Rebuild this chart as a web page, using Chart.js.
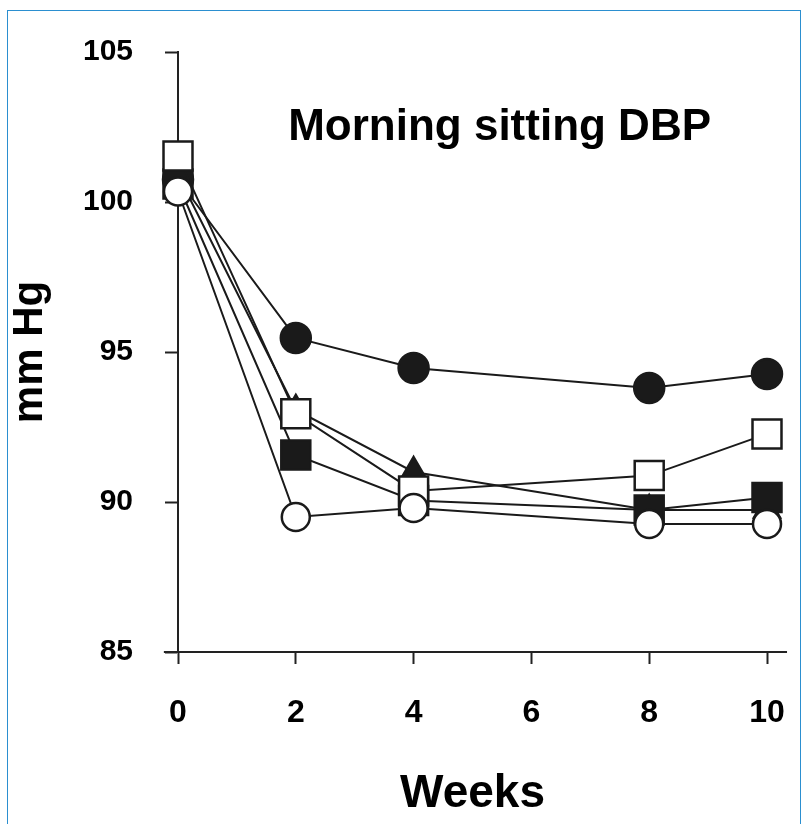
<!DOCTYPE html>
<html>
<head>
<meta charset="utf-8">
<script src="https://cdn.jsdelivr.net/npm/chart.js@4/dist/chart.umd.min.js"></script>
<style>
  body { margin: 0; background: #fff; }
  #frame { position: absolute; left: 7px; top: 10px; width: 792px; height: 830px;
           border: 1.5px solid #2b8fd0; border-bottom: none; }
  #c { position: absolute; left: 0; top: 0; }
</style>
</head>
<body>
<div id="frame"></div>
<canvas id="c" width="806" height="824"></canvas>
<script>
// weeks on the x axis
const weeks = [0, 2, 4, 8, 10]
const xTicks = [0, 2, 4, 6, 8, 10]
const yTicks = [85, 90, 95, 100, 105]

// morning sitting DBP (mm Hg) per group
const filledCircle = [100.75, 95.47, 94.47, 93.8, 94.27]
const openSquare   = [101.53, 92.94, 90.37, 90.88, 92.27]
const triangle     = [100.9, 93.07, 91.0, 89.73, 89.73]
const filledSquare = [100.6, 91.57, 90.05, 89.73, 90.15]
const openCircle   = [100.35, 89.5, 89.8, 89.27, 89.27]

const toPoints = (vals) => vals.map((v, i) => ({ x: weeks[i], y: v }))

// one line + marker style per group
function series(vals, style, radius, fill) {
  return {
    data: toPoints(vals),
    borderColor: '#1a1a1a',
    borderWidth: 2,
    pointStyle: style,
    pointRadius: radius,
    pointHoverRadius: radius,
    pointBackgroundColor: fill,
    pointBorderColor: '#1a1a1a',
    pointBorderWidth: 2.5,
    tension: 0,
    clip: false
  }
}

// title inside the plot + x axis line that runs past both ends
const extras = {
  id: 'extras',
  afterDraw(chart) {
    const { ctx, scales: { x, y } } = chart
    ctx.save()
    ctx.strokeStyle = '#222'
    ctx.lineWidth = 2
    ctx.beginPath()
    ctx.moveTo(x.getPixelForValue(-0.24), y.getPixelForValue(85))
    ctx.lineTo(x.getPixelForValue(10.34), y.getPixelForValue(85))
    ctx.stroke()
    ctx.fillStyle = '#000'
    ctx.font = 'bold 44px "Liberation Sans", Arial, sans-serif'
    ctx.textAlign = 'center'
    ctx.textBaseline = 'alphabetic'
    ctx.fillText('Morning sitting DBP', x.getPixelForValue(5.46), y.getPixelForValue(102.07))
    ctx.restore()
  }
}

new Chart(document.getElementById('c'), {
  type: 'line',
  data: {
    datasets: [
      series(openCircle, 'circle', 14, '#fff'),
      series(openSquare, 'rect', 20.5, '#fff'),
      series(filledCircle, 'circle', 15, '#1a1a1a'),
      series(filledSquare, 'rect', 20.5, '#1a1a1a'),
      series(triangle, 'triangle', 15, '#1a1a1a')
    ]
  },
  options: {
    responsive: false,
    animation: false,
    layout: { autoPadding: false, padding: { left: 0, top: 52, right: 39, bottom: 0 } },
    plugins: { legend: { display: false }, tooltip: { enabled: false } },
    scales: {
      x: {
        type: 'linear',
        min: 0,
        max: 10,
        afterBuildTicks: (s) => { s.ticks = xTicks.map(v => ({ value: v })) },
        afterFit: (s) => { s.height = 172; s.paddingLeft = 0; s.paddingRight = 0 },
        border: { display: false },
        grid: { drawOnChartArea: false, tickLength: 12, tickWidth: 2, tickColor: '#222' },
        ticks: {
          color: '#000',
          padding: 30,
          font: { family: '"Liberation Sans", Arial, sans-serif', size: 32, weight: 'bold' }
        },
        title: {
          display: true,
          text: 'Weeks',
          color: '#000',
          padding: { top: 0, bottom: 2 },
          font: { family: '"Liberation Sans", Arial, sans-serif', size: 46, weight: 'bold' }
        }
      },
      y: {
        min: 85,
        max: 105,
        afterBuildTicks: (s) => { s.ticks = yTicks.map(v => ({ value: v })) },
        afterFit: (s) => { s.width = 178 },
        border: { display: true, color: '#222', width: 2 },
        grid: { drawOnChartArea: false, tickLength: 13, tickWidth: 2, tickColor: '#222' },
        ticks: {
          color: '#000',
          padding: 32,
          font: { family: '"Liberation Sans", Arial, sans-serif', size: 30, weight: 'bold' }
        },
        title: {
          display: true,
          text: 'mm Hg',
          color: '#000',
          padding: { top: 5, bottom: 0 },
          font: { family: '"Liberation Sans", Arial, sans-serif', size: 42, weight: 'bold' }
        }
      }
    }
  },
  plugins: [extras]
})
</script>
</body>
</html>
